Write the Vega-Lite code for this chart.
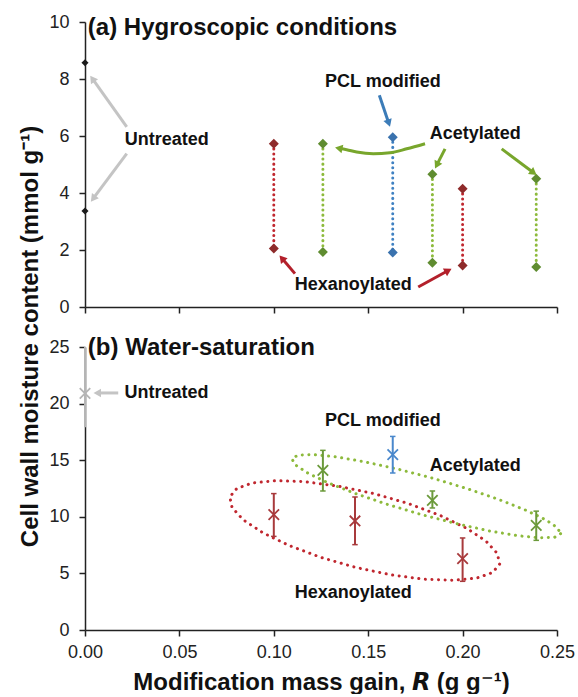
{
  "$schema": "https://vega.github.io/schema/vega-lite/v6.json",
  "background": "white",
  "padding": {"left": 18, "top": 13, "right": 5, "bottom": 0},
  "config": {
    "font": "Liberation Sans",
    "view": {"stroke": null},
    "axis": {
      "grid": false,
      "domainColor": "#222",
      "domainWidth": 1.5,
      "tickColor": "#222",
      "tickWidth": 1.5,
      "tickSize": 6,
      "labelFlush": false,
      "labelFont": "Liberation Sans",
      "labelFontSize": 18,
      "labelColor": "#222",
      "titleFont": "Liberation Sans",
      "titleFontSize": 24,
      "titleFontWeight": "bold",
      "titleColor": "#111"
    },
    "text": {"font": "Liberation Sans", "fontWeight": "bold", "fontSize": 18, "color": "#111"}
  },
  "datasets": {
    "hyg": [
      {"group": "Untreated", "R": 0, "M": 8.57},
      {"group": "Untreated", "R": 0, "M": 3.37},
      {"group": "Hexanoylated", "R": 0.100, "M": 5.73},
      {"group": "Hexanoylated", "R": 0.100, "M": 2.05},
      {"group": "Acetylated", "R": 0.126, "M": 5.73},
      {"group": "Acetylated", "R": 0.126, "M": 1.93},
      {"group": "PCL modified", "R": 0.163, "M": 5.96},
      {"group": "PCL modified", "R": 0.163, "M": 1.91},
      {"group": "Acetylated", "R": 0.184, "M": 4.66},
      {"group": "Acetylated", "R": 0.184, "M": 1.55},
      {"group": "Hexanoylated", "R": 0.200, "M": 4.15},
      {"group": "Hexanoylated", "R": 0.200, "M": 1.46},
      {"group": "Acetylated", "R": 0.239, "M": 4.50},
      {"group": "Acetylated", "R": 0.239, "M": 1.40}
    ],
    "sat": [
      {"group": "Untreated", "R": 0, "M": 20.9, "lo": 17.9, "hi": 25.0},
      {"group": "Hexanoylated", "R": 0.100, "M": 10.19, "lo": 8.27, "hi": 12.05},
      {"group": "Hexanoylated", "R": 0.143, "M": 9.63, "lo": 7.54, "hi": 11.75},
      {"group": "Hexanoylated", "R": 0.200, "M": 6.3, "lo": 4.3, "hi": 8.13},
      {"group": "Acetylated", "R": 0.126, "M": 14.1, "lo": 12.28, "hi": 15.87},
      {"group": "Acetylated", "R": 0.184, "M": 11.45, "lo": 10.78, "hi": 12.28},
      {"group": "Acetylated", "R": 0.239, "M": 9.25, "lo": 7.92, "hi": 10.5},
      {"group": "PCL modified", "R": 0.163, "M": 15.5, "lo": 13.87, "hi": 17.1}
    ],
    "ellipse": [
      {"group": "Hexanoylated", "i": 0, "R": 0.2196, "M": 5.82},
      {"group": "Hexanoylated", "i": 1, "R": 0.2159, "M": 5.08},
      {"group": "Hexanoylated", "i": 2, "R": 0.2076, "M": 4.59},
      {"group": "Hexanoylated", "i": 3, "R": 0.1952, "M": 4.39},
      {"group": "Hexanoylated", "i": 4, "R": 0.1797, "M": 4.48},
      {"group": "Hexanoylated", "i": 5, "R": 0.1619, "M": 4.88},
      {"group": "Hexanoylated", "i": 6, "R": 0.1433, "M": 5.53},
      {"group": "Hexanoylated", "i": 7, "R": 0.1250, "M": 6.41},
      {"group": "Hexanoylated", "i": 8, "R": 0.1082, "M": 7.46},
      {"group": "Hexanoylated", "i": 9, "R": 0.0942, "M": 8.59},
      {"group": "Hexanoylated", "i": 10, "R": 0.0838, "M": 9.73},
      {"group": "Hexanoylated", "i": 11, "R": 0.0779, "M": 10.82},
      {"group": "Hexanoylated", "i": 12, "R": 0.0767, "M": 11.76},
      {"group": "Hexanoylated", "i": 13, "R": 0.0804, "M": 12.50},
      {"group": "Hexanoylated", "i": 14, "R": 0.0887, "M": 12.99},
      {"group": "Hexanoylated", "i": 15, "R": 0.1011, "M": 13.19},
      {"group": "Hexanoylated", "i": 16, "R": 0.1166, "M": 13.10},
      {"group": "Hexanoylated", "i": 17, "R": 0.1344, "M": 12.70},
      {"group": "Hexanoylated", "i": 18, "R": 0.1530, "M": 12.05},
      {"group": "Hexanoylated", "i": 19, "R": 0.1713, "M": 11.17},
      {"group": "Hexanoylated", "i": 20, "R": 0.1881, "M": 10.12},
      {"group": "Hexanoylated", "i": 21, "R": 0.2021, "M": 8.99},
      {"group": "Hexanoylated", "i": 22, "R": 0.2124, "M": 7.85},
      {"group": "Hexanoylated", "i": 23, "R": 0.2184, "M": 6.76},
      {"group": "Hexanoylated", "i": 24, "R": 0.2196, "M": 5.82},
      {"group": "Acetylated", "i": 0, "R": 0.2519, "M": 8.51},
      {"group": "Acetylated", "i": 1, "R": 0.2488, "M": 8.20},
      {"group": "Acetylated", "i": 2, "R": 0.2410, "M": 8.14},
      {"group": "Acetylated", "i": 3, "R": 0.2292, "M": 8.33},
      {"group": "Acetylated", "i": 4, "R": 0.2140, "M": 8.76},
      {"group": "Acetylated", "i": 5, "R": 0.1966, "M": 9.40},
      {"group": "Acetylated", "i": 6, "R": 0.1781, "M": 10.20},
      {"group": "Acetylated", "i": 7, "R": 0.1597, "M": 11.12},
      {"group": "Acetylated", "i": 8, "R": 0.1428, "M": 12.08},
      {"group": "Acetylated", "i": 9, "R": 0.1285, "M": 13.02},
      {"group": "Acetylated", "i": 10, "R": 0.1178, "M": 13.88},
      {"group": "Acetylated", "i": 11, "R": 0.1113, "M": 14.60},
      {"group": "Acetylated", "i": 12, "R": 0.1096, "M": 15.13},
      {"group": "Acetylated", "i": 13, "R": 0.1127, "M": 15.44},
      {"group": "Acetylated", "i": 14, "R": 0.1205, "M": 15.50},
      {"group": "Acetylated", "i": 15, "R": 0.1324, "M": 15.31},
      {"group": "Acetylated", "i": 16, "R": 0.1475, "M": 14.88},
      {"group": "Acetylated", "i": 17, "R": 0.1650, "M": 14.24},
      {"group": "Acetylated", "i": 18, "R": 0.1835, "M": 13.44},
      {"group": "Acetylated", "i": 19, "R": 0.2018, "M": 12.52},
      {"group": "Acetylated", "i": 20, "R": 0.2187, "M": 11.56},
      {"group": "Acetylated", "i": 21, "R": 0.2330, "M": 10.62},
      {"group": "Acetylated", "i": 22, "R": 0.2438, "M": 9.76},
      {"group": "Acetylated", "i": 23, "R": 0.2502, "M": 9.04},
      {"group": "Acetylated", "i": 24, "R": 0.2519, "M": 8.51}
    ],
    "arrows": [
      {"panel": "a", "group": "Untreated", "R": 0.0221, "M": 6.32, "R2": 0.0039, "M2": 8.01},
      {"panel": "a", "group": "Untreated", "R": 0.0221, "M": 5.38, "R2": 0.0043, "M2": 3.80},
      {"panel": "a", "group": "Hexanoylated", "R": 0.1112, "M": 1.17, "R2": 0.1043, "M2": 1.71},
      {"panel": "a", "group": "PCL modified", "R": 0.1559, "M": 7.43, "R2": 0.1609, "M2": 6.45},
      {"panel": "a", "group": "Acetylated", "R": 0.1907, "M": 5.55, "R2": 0.1863, "M2": 4.98},
      {"panel": "a", "group": "Acetylated", "R": 0.2207, "M": 5.55, "R2": 0.2376, "M2": 4.71},
      {"panel": "a", "group": "Hexanoylated", "R": 0.1765, "M": 0.70, "R2": 0.1924, "M2": 1.28},
      {"panel": "b", "group": "Untreated", "R": 0.0176, "M": 20.94, "R2": 0.0065, "M2": 20.94}
    ],
    "heads": [
      {"panel": "a", "group": "Untreated", "R": 0.0039, "M": 8.01, "angle": -35},
      {"panel": "a", "group": "Untreated", "R": 0.0043, "M": 3.80, "angle": 217},
      {"panel": "a", "group": "Hexanoylated", "R": 0.1043, "M": 1.71, "angle": -40},
      {"panel": "a", "group": "PCL modified", "R": 0.1609, "M": 6.45, "angle": 161},
      {"panel": "a", "group": "Acetylated", "R": 0.1863, "M": 4.98, "angle": 207},
      {"panel": "a", "group": "Acetylated", "R": 0.2376, "M": 4.71, "angle": 127},
      {"panel": "a", "group": "Hexanoylated", "R": 0.1924, "M": 1.28, "angle": 61},
      {"panel": "a", "group": "Acetylated", "R": 0.1344, "M": 5.57, "angle": -78},
      {"panel": "b", "group": "Untreated", "R": 0.0065, "M": 20.94, "angle": -90}
    ],
    "curve": [
      {"group": "Acetylated", "i": 0, "R": 0.1801, "M": 5.73},
      {"group": "Acetylated", "i": 1, "R": 0.1704, "M": 5.55},
      {"group": "Acetylated", "i": 2, "R": 0.1615, "M": 5.41},
      {"group": "Acetylated", "i": 3, "R": 0.1527, "M": 5.38},
      {"group": "Acetylated", "i": 4, "R": 0.1439, "M": 5.44},
      {"group": "Acetylated", "i": 5, "R": 0.1386, "M": 5.52},
      {"group": "Acetylated", "i": 6, "R": 0.1344, "M": 5.57}
    ],
    "labels": [
      {"panel": "a", "text": "Untreated", "R": 0.0433, "M": 5.86},
      {"panel": "a", "text": "PCL modified", "R": 0.1578, "M": 7.89},
      {"panel": "a", "text": "Acetylated", "R": 0.2067, "M": 6.08},
      {"panel": "a", "text": "Hexanoylated", "R": 0.1421, "M": 0.78},
      {"panel": "b", "text": "Untreated", "R": 0.0432, "M": 20.94},
      {"panel": "b", "text": "PCL modified", "R": 0.1578, "M": 18.44},
      {"panel": "b", "text": "Acetylated", "R": 0.2067, "M": 14.49},
      {"panel": "b", "text": "Hexanoylated", "R": 0.1421, "M": 3.30}
    ],
    "titles": [
      {"panel": "a", "text": "(a) Hygroscopic conditions", "R": 0.0015, "M": 9.53},
      {"panel": "b", "text": "(b) Water-saturation", "R": 0.0015, "M": 24.27}
    ]
  },
  "spacing": 40,
  "bounds": "flush",
  "vconcat": [
    {
      "width": 472,
      "height": 285,
      "resolve": {"scale": {"color": "independent"}},
      "layer": [
        {
          "data": {"name": "hyg"},
          "transform": [{"filter": "datum.group !== 'Untreated'"}],
          "mark": {"type": "line", "strokeDash": [0.1, 5], "strokeCap": "round", "strokeWidth": 3},
          "encoding": {
            "x": {"field": "R", "type": "quantitative", "scale": {"domain": [0, 0.25], "nice": false},
                  "axis": {"values": [0, 0.05, 0.1, 0.15, 0.2, 0.25], "labels": false, "title": null}},
            "y": {"field": "M", "type": "quantitative", "scale": {"domain": [0, 10], "nice": false},
                  "axis": {"values": [0, 2, 4, 6, 8, 10], "labelPadding": 10, "title": "Cell wall moisture content (mmol g\u207b\u00b9)", "titleY": 314, "titlePadding": 6}},
            "detail": {"field": "R", "type": "nominal"},
            "color": {"field": "group", "type": "nominal", "legend": null,
                      "scale": {"domain": ["Untreated", "Hexanoylated", "Acetylated", "PCL modified"], "range": ["#222222", "#c0272f", "#8dba3c", "#3f81c2"]}}
          }
        },
        {
          "data": {"name": "hyg"},
          "mark": {"type": "point", "shape": "diamond", "filled": true, "opacity": 1},
          "encoding": {
            "x": {"field": "R", "type": "quantitative"},
            "y": {"field": "M", "type": "quantitative"},
            "size": {"condition": {"test": "datum.group === 'Untreated'", "value": 50}, "value": 100},
            "color": {"field": "group", "type": "nominal", "legend": null,
                      "scale": {"domain": ["Untreated", "Hexanoylated", "Acetylated", "PCL modified"], "range": ["#1a1a1a", "#8e2b2b", "#5f8c30", "#3a72ae"]}}
          }
        },
        {
          "data": {"name": "arrows"},
          "transform": [{"filter": "datum.panel === 'a'"}],
          "mark": {"type": "rule", "strokeWidth": 3},
          "encoding": {
            "x": {"field": "R", "type": "quantitative"},
            "y": {"field": "M", "type": "quantitative"},
            "x2": {"field": "R2"},
            "y2": {"field": "M2"},
            "color": {"field": "group", "type": "nominal", "legend": null,
                      "scale": {"domain": ["Untreated", "Hexanoylated", "Acetylated", "PCL modified"], "range": ["#c4c4c4", "#b3202b", "#78a62c", "#3c7cb8"]}}
          }
        },
        {
          "data": {"name": "curve"},
          "mark": {"type": "line", "strokeWidth": 3, "interpolate": "monotone"},
          "encoding": {
            "x": {"field": "R", "type": "quantitative"},
            "y": {"field": "M", "type": "quantitative"},
            "order": {"field": "i", "type": "quantitative"},
            "color": {"value": "#78a62c"}
          }
        },
        {
          "data": {"name": "heads"},
          "transform": [{"filter": "datum.panel === 'a'"}],
          "mark": {"type": "point", "shape": "triangle-up", "filled": true, "opacity": 1, "size": 75},
          "encoding": {
            "x": {"field": "R", "type": "quantitative"},
            "y": {"field": "M", "type": "quantitative"},
            "angle": {"field": "angle", "type": "quantitative", "scale": null},
            "color": {"field": "group", "type": "nominal", "legend": null,
                      "scale": {"domain": ["Untreated", "Hexanoylated", "Acetylated", "PCL modified"], "range": ["#c4c4c4", "#b3202b", "#78a62c", "#3c7cb8"]}}
          }
        },
        {
          "data": {"name": "labels"},
          "transform": [{"filter": "datum.panel === 'a'"}],
          "mark": {"type": "text", "align": "center", "baseline": "middle"},
          "encoding": {
            "x": {"field": "R", "type": "quantitative"},
            "y": {"field": "M", "type": "quantitative"},
            "text": {"field": "text"}
          }
        },
        {
          "data": {"name": "titles"},
          "transform": [{"filter": "datum.panel === 'a'"}],
          "mark": {"type": "text", "align": "left", "baseline": "alphabetic", "fontSize": 24},
          "encoding": {
            "x": {"field": "R", "type": "quantitative"},
            "y": {"field": "M", "type": "quantitative"},
            "text": {"field": "text"}
          }
        }
      ]
    },
    {
      "width": 472,
      "height": 283,
      "resolve": {"scale": {"color": "independent"}},
      "layer": [
        {
          "data": {"name": "ellipse"},
          "mark": {"type": "line", "strokeDash": [0.1, 6.5], "strokeCap": "round", "strokeWidth": 3, "clip": false},
          "encoding": {
            "x": {"field": "R", "type": "quantitative", "scale": {"domain": [0, 0.25], "nice": false},
                  "axis": {"values": [0, 0.05, 0.1, 0.15, 0.2, 0.25], "format": ".2f", "labelPadding": 7, "title": "Modification mass gain, \ud835\ude4d (g g\u207b\u00b9)", "titlePadding": 9}},
            "y": {"field": "M", "type": "quantitative", "scale": {"domain": [0, 25], "nice": false},
                  "axis": {"values": [0, 5, 10, 15, 20, 25], "labelPadding": 10, "title": null}},
            "order": {"field": "i", "type": "quantitative"},
            "detail": {"field": "group", "type": "nominal"},
            "color": {"field": "group", "type": "nominal", "legend": null,
                      "scale": {"domain": ["Untreated", "Hexanoylated", "Acetylated", "PCL modified"], "range": ["#222222", "#c0272f", "#8dba3c", "#3f81c2"]}}
          }
        },
        {
          "data": {"name": "sat"},
          "mark": {"type": "rule", "strokeWidth": 2},
          "encoding": {
            "x": {"field": "R", "type": "quantitative"},
            "y": {"field": "lo", "type": "quantitative"},
            "y2": {"field": "hi"},
            "color": {"field": "group", "type": "nominal", "legend": null,
                      "scale": {"domain": ["Untreated", "Hexanoylated", "Acetylated", "PCL modified"], "range": ["#b5b5b5", "#a83a3c", "#6b9a3a", "#4a88cc"]}}
          }
        },
        {
          "data": {"name": "sat"},
          "transform": [{"filter": "datum.group !== 'Untreated'"}],
          "mark": {"type": "point", "shape": "M-1,0L1,0", "size": 30, "strokeWidth": 1.5, "opacity": 1},
          "encoding": {
            "x": {"field": "R", "type": "quantitative"},
            "y": {"field": "lo", "type": "quantitative"},
            "color": {"field": "group", "type": "nominal", "legend": null,
                      "scale": {"domain": ["Untreated", "Hexanoylated", "Acetylated", "PCL modified"], "range": ["#b5b5b5", "#a83a3c", "#6b9a3a", "#4a88cc"]}}
          }
        },
        {
          "data": {"name": "sat"},
          "transform": [{"filter": "datum.group !== 'Untreated'"}],
          "mark": {"type": "point", "shape": "M-1,0L1,0", "size": 30, "strokeWidth": 1.5, "opacity": 1},
          "encoding": {
            "x": {"field": "R", "type": "quantitative"},
            "y": {"field": "hi", "type": "quantitative"},
            "color": {"field": "group", "type": "nominal", "legend": null,
                      "scale": {"domain": ["Untreated", "Hexanoylated", "Acetylated", "PCL modified"], "range": ["#b5b5b5", "#a83a3c", "#6b9a3a", "#4a88cc"]}}
          }
        },
        {
          "data": {"name": "sat"},
          "mark": {"type": "point", "shape": "M-1,-1L1,1M-1,1L1,-1", "size": 110, "strokeWidth": 1.8, "opacity": 1},
          "encoding": {
            "x": {"field": "R", "type": "quantitative"},
            "y": {"field": "M", "type": "quantitative"},
            "color": {"field": "group", "type": "nominal", "legend": null,
                      "scale": {"domain": ["Untreated", "Hexanoylated", "Acetylated", "PCL modified"], "range": ["#b5b5b5", "#a83a3c", "#6b9a3a", "#4a88cc"]}}
          }
        },
        {
          "data": {"name": "arrows"},
          "transform": [{"filter": "datum.panel === 'b'"}],
          "mark": {"type": "rule", "strokeWidth": 3},
          "encoding": {
            "x": {"field": "R", "type": "quantitative"},
            "y": {"field": "M", "type": "quantitative"},
            "x2": {"field": "R2"},
            "y2": {"field": "M2"},
            "color": {"value": "#c4c4c4"}
          }
        },
        {
          "data": {"name": "heads"},
          "transform": [{"filter": "datum.panel === 'b'"}],
          "mark": {"type": "point", "shape": "triangle-up", "filled": true, "opacity": 1, "size": 75},
          "encoding": {
            "x": {"field": "R", "type": "quantitative"},
            "y": {"field": "M", "type": "quantitative"},
            "angle": {"field": "angle", "type": "quantitative", "scale": null},
            "color": {"value": "#c4c4c4"}
          }
        },
        {
          "data": {"name": "labels"},
          "transform": [{"filter": "datum.panel === 'b'"}],
          "mark": {"type": "text", "align": "center", "baseline": "middle"},
          "encoding": {
            "x": {"field": "R", "type": "quantitative"},
            "y": {"field": "M", "type": "quantitative"},
            "text": {"field": "text"}
          }
        },
        {
          "data": {"name": "titles"},
          "transform": [{"filter": "datum.panel === 'b'"}],
          "mark": {"type": "text", "align": "left", "baseline": "alphabetic", "fontSize": 24},
          "encoding": {
            "x": {"field": "R", "type": "quantitative"},
            "y": {"field": "M", "type": "quantitative"},
            "text": {"field": "text"}
          }
        }
      ]
    }
  ]
}
